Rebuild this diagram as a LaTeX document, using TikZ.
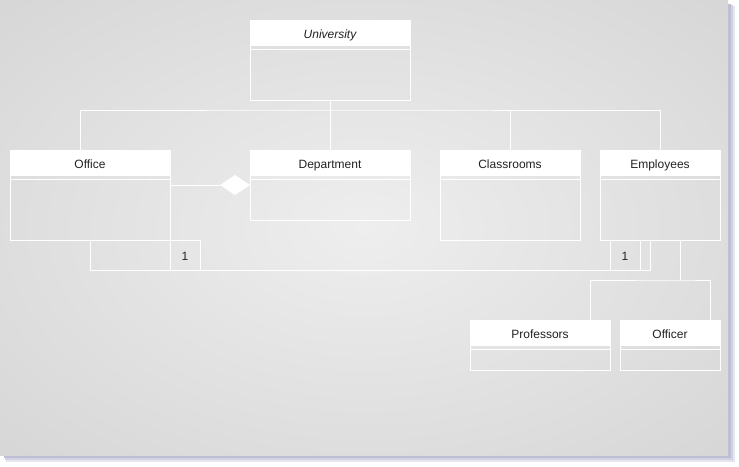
\documentclass[tikz,border=0pt]{standalone}
\usepackage{fontspec}
\setmainfont{Liberation Sans}
\usetikzlibrary{shapes.geometric}
\definecolor{bgin}{HTML}{EEEEEE}
\definecolor{bgout}{HTML}{D6D6D6}
\definecolor{txt}{HTML}{222222}
\definecolor{sh1}{HTML}{E6E6F0}
\definecolor{sh2}{HTML}{D2D2E2}
\definecolor{sh3}{HTML}{BDBDD3}
\pgfdeclareradialshading{bgshade}{\pgfpoint{0bp}{0bp}}{color(0bp)=(bgin); color(36bp)=(bgout); color(50bp)=(bgout)}
\begin{document}
\begin{tikzpicture}[x=1pt,y=-1pt,line width=1pt,
  classbox/.style={draw=white,anchor=north west,inner sep=0pt,outer sep=0pt},
  hdr/.style={fill=white,anchor=north west,inner sep=0pt,outer sep=0pt,minimum height=26pt,text height=10pt,text depth=0pt,text=txt,font=\fontsize{12}{14}\selectfont},
  sepline/.style={draw=white,line width=1pt},
  conn/.style={draw=white,line width=1pt},
  lbl/.style={draw=white,minimum width=30pt,minimum height=30pt,inner sep=0pt,text height=10pt,text depth=0pt,text=txt,font=\fontsize{12}{14}\selectfont},
  aggd/.style={diamond,fill=white,draw=none,minimum width=30pt,minimum height=20pt,inner sep=0pt,outer sep=0pt}]
\useasboundingbox (0,0) rectangle (739,466);
\fill[white] (0,0) rectangle (739,466);
% shadow
\fill[sh1] (6,6) rectangle (735,462);
\fill[sh2] (5,5) rectangle (733,460);
\fill[sh3] (4,4) rectangle (730.5,457.5);
% background
\shade[shading=bgshade] (0,0) rectangle (728,455);

% classes
\node[classbox,minimum width=160pt,minimum height=80pt] (uni) at (250,20) {};
\node[hdr,minimum width=160pt,font=\itshape\fontsize{12}{14}\selectfont] (uniH) at (250,20) {University};
\draw[sepline] ([yshift=-29pt]uni.north west) -- ([yshift=-29pt]uni.north east);

\node[classbox,minimum width=160pt,minimum height=90pt] (office) at (10,150) {};
\node[hdr,minimum width=160pt] (officeH) at (10,150) {Office};
\draw[sepline] ([yshift=-29pt]office.north west) -- ([yshift=-29pt]office.north east);

\node[classbox,minimum width=160pt,minimum height=70pt] (dept) at (250,150) {};
\node[hdr,minimum width=160pt] (deptH) at (250,150) {Department};
\draw[sepline] ([yshift=-29pt]dept.north west) -- ([yshift=-29pt]dept.north east);

\node[classbox,minimum width=140pt,minimum height=90pt] (class) at (440,150) {};
\node[hdr,minimum width=140pt] (classH) at (440,150) {Classrooms};
\draw[sepline] ([yshift=-29pt]class.north west) -- ([yshift=-29pt]class.north east);

\node[classbox,minimum width=120pt,minimum height=90pt] (emp) at (600,150) {};
\node[hdr,minimum width=120pt] (empH) at (600,150) {Employees};
\draw[sepline] ([yshift=-29pt]emp.north west) -- ([yshift=-29pt]emp.north east);

\node[classbox,minimum width=140pt,minimum height=50pt] (prof) at (470,320) {};
\node[hdr,minimum width=140pt] (profH) at (470,320) {Professors};
\draw[sepline] ([yshift=-29pt]prof.north west) -- ([yshift=-29pt]prof.north east);

\node[classbox,minimum width=100pt,minimum height=50pt] (officer) at (620,320) {};
\node[hdr,minimum width=100pt] (officerH) at (620,320) {Officer};
\draw[sepline] ([yshift=-29pt]officer.north west) -- ([yshift=-29pt]officer.north east);

% top bus
\draw[conn] (uni.south) -- ++(0,10) coordinate (tb);
\draw[conn] ([xshift=-10pt]office.north) |- (tb) -| (emp.north);
\draw[conn] (dept.north) -- (dept.north |- tb);
\draw[conn] (class.north) -- (class.north |- tb);

% aggregation
\node[aggd,anchor=east] (agg) at (dept.west) {};
\draw[conn] (office.east |- agg.west) -- (agg.west);

% association
\draw[conn] (office.south) -- ++(0,30) -| ([xshift=-10pt]emp.south);
\node[lbl] (l1) at (185,255) {1};
\node[lbl] (l2) at (625,255) {1};

% generalization
\draw[conn] ([xshift=20pt]emp.south) -- ++(0,40) coordinate (gj);
\draw[conn] ([xshift=50pt]prof.north) |- (gj) -| ([xshift=40pt]officer.north);
\end{tikzpicture}
\end{document}
